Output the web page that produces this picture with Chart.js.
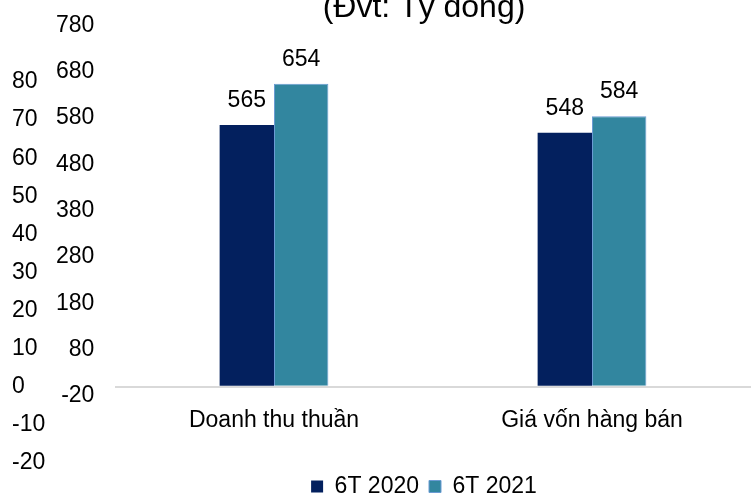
<!DOCTYPE html>
<html>
<head>
<meta charset="utf-8">
<script src="https://cdn.jsdelivr.net/npm/chart.js@4.4.1/dist/chart.umd.min.js"></script>
<style>
  html, body { margin: 0; padding: 0; background: #fff; }
  #wrap { position: relative; width: 751px; height: 493px; overflow: hidden; }
  #wrap canvas { position: absolute; left: 0; top: 0; }
  #leftAxis { pointer-events: none; }
</style>
</head>
<body>
<div id="wrap">
  <canvas id="main" width="751" height="493"></canvas>
  <canvas id="leftAxis" width="751" height="493"></canvas>
</div>
<script>
const categories = ['Doanh thu thuần', 'Giá vốn hàng bán'];
const seriesNames = ['6T 2020', '6T 2021'];
const values2020 = [565, 548];
const values2021 = [654, 584];
const rightTicks = [-20, 80, 180, 280, 380, 480, 580, 680, 780];
const leftTicks = [-20, -10, 0, 10, 20, 30, 40, 50, 60, 70, 80];
const chartTitle = '(Đvt: Tỷ đồng)';

Chart.defaults.font.family = '"Liberation Sans", Arial, sans-serif';
Chart.defaults.color = '#000';

const font = { size: 23 };

// value labels above each bar
const barLabels = {
    id: 'barLabels',
    afterDatasetsDraw(chart) {
        const ctx = chart.ctx;
        ctx.save();
        ctx.font = '23px "Liberation Sans", Arial, sans-serif';
        ctx.fillStyle = '#000';
        ctx.textAlign = 'center';
        ctx.textBaseline = 'alphabetic';
        chart.data.datasets.forEach((ds, i) => {
            chart.getDatasetMeta(i).data.forEach((bar, j) => {
                ctx.fillText(ds.data[j], bar.x, bar.y - 18);
            });
        });
        ctx.restore();
    }
};

new Chart(document.getElementById('main'), {
    type: 'bar',
    data: {
        labels: categories,
        datasets: [
            { label: seriesNames[0], data: values2020, backgroundColor: '#03205E', borderColor: '#4A6AA8', borderWidth: 0 },
            { label: seriesNames[1], data: values2021, backgroundColor: '#32869F', borderColor: '#6A9BD3', borderWidth: 1 }
        ]
    },
    options: {
        responsive: false,
        animation: false,
        layout: { padding: { left: 89, right: -8, top: -21, bottom: -15 } },
        datasets: { bar: { barPercentage: 1, categoryPercentage: 0.342 } },
        plugins: {
            title: {
                display: true, text: chartTitle, color: '#000',
                font: { size: 32, weight: 'normal' },
                padding: { top: 10, bottom: -2 }
            },
            legend: {
                position: 'bottom',
                labels: { font, color: '#000', boxWidth: 12, boxHeight: 12, padding: 10 }
            },
            tooltip: { enabled: false }
        },
        scales: {
            x: {
                grid: { display: false },
                border: { display: false },
                ticks: { font: { size: 23 }, color: '#000', padding: 3 },
                afterFit: axis => { axis.height = 69; }
            },
            y: {
                min: -20,
                max: 780,
                afterBuildTicks: axis => {
                    axis.ticks = rightTicks.concat([0]).sort((a, b) => a - b).map(v => ({ value: v }));
                },
                afterFit: axis => { axis.width = 26; },
                // mirrored so the labels are not clipped to the narrow axis box
                ticks: { font, color: '#000', mirror: true, crossAlign: 'far', padding: -59, autoSkip: false, callback: v => v === 0 ? '' : v },
                grid: {
                    drawTicks: false,
                    lineWidth: 2,
                    color: c => (c.tick && c.tick.value === 0) ? '#D9D9D9' : 'rgba(0,0,0,0)'
                },
                border: { display: false }
            }
        }
    },
    plugins: [barLabels]
});

// second value axis drawn over the same picture
new Chart(document.getElementById('leftAxis'), {
    type: 'bar',
    data: { labels: categories, datasets: [] },
    options: {
        responsive: false,
        animation: false,
        layout: { padding: { left: 12, right: 0, top: 82, bottom: 30 } },
        plugins: { legend: { display: false }, tooltip: { enabled: false } },
        scales: {
            x: { display: false },
            y: {
                min: -20,
                max: 80,
                afterBuildTicks: axis => { axis.ticks = leftTicks.map(v => ({ value: v })); },
                ticks: { font, color: '#000', crossAlign: 'far', autoSkip: false, padding: 0 },
                grid: { display: false },
                border: { display: false }
            }
        }
    }
});
</script>
</body>
</html>
